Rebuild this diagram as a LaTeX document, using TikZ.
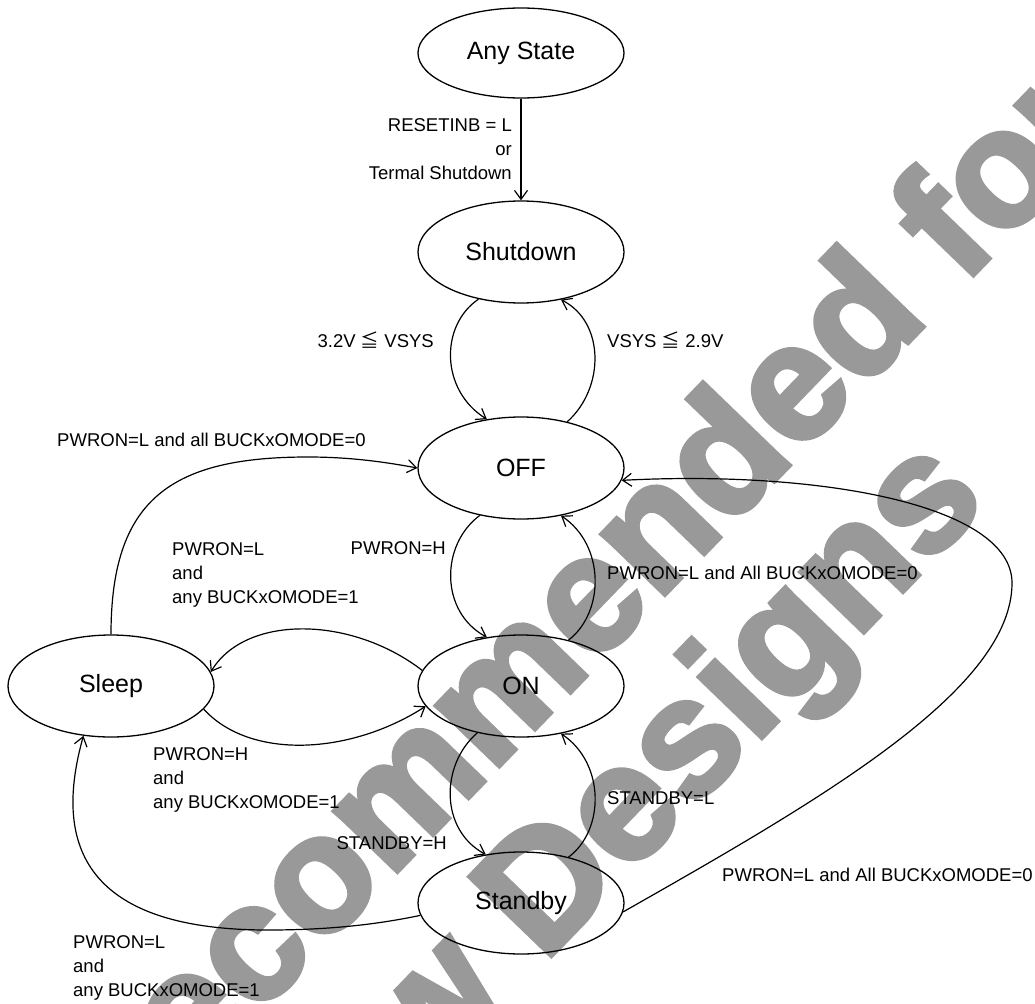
\documentclass[tikz,border=0pt]{standalone}
\usepackage{fontspec}
\setmainfont{Liberation Sans}
\newfontfamily\jpfont{Noto Sans CJK JP}
\newfontfamily\wmfont{Liberation Sans Bold}[FakeBold=3]
\usetikzlibrary{arrows.meta,shapes.geometric}
\definecolor{wmgray}{RGB}{153,153,153}
\tikzset{
  state/.style={ellipse, draw, line width=1.3pt, minimum width=206pt, minimum height=102pt, inner sep=0pt, font=\fontsize{25}{30}\selectfont},
  lbl/.style={inner sep=0pt, font=\fontsize{18.5}{24}\selectfont},
  conn/.style={line width=1.2pt, -{Straight Barb[length=9pt,width=13pt]}},
  wm/.style={inner sep=0pt, anchor=base, rotate=46, text=wmgray, font=\wmfont\fontsize{165}{180}\selectfont},
}
\begin{document}
\begin{tikzpicture}[x=1pt,y=-1pt]
\useasboundingbox (0,0) rectangle (1035,1003);
\begin{scope}
\clip (0,0) rectangle (1035,1003);
\node[wm] (wm1) at (501,764) {Not Recommended for};
\node[wm] (wm2) at (633,871) {New Designs};
\end{scope}

\node[state, minimum height=90pt] (as) at (521,53) {Any State};
\node[state] (sd) at (521,252) {Shutdown};
\node[state] (of) at (521,468) {OFF};
\node[state] (on) at (521,686) {ON};
\node[state] (sl) at (111,686) {Sleep};
\node[state] (sb) at (521,903) {Standby};

\draw[conn] (as.south) -- (sd.north);
\draw[conn] (sd.228) .. controls (440,325) and (440,390) .. (of.125);
\draw[conn] (of.45) .. controls (605,388) and (605,322) .. (sd.310);
\draw[conn] (sl.north) .. controls (111,500) and (170,457) .. (308,457) .. controls (350,457) and (385,462) .. (of.west);
\draw[conn] (of.229) .. controls (440,545) and (440,612) .. (on.125);
\draw[conn] (on.44) .. controls (605,612) and (605,545) .. (of.310);
\draw[conn] (sb.-5) .. controls (820,800) and (1012,690) .. (1012,583) .. controls (1012,505) and (820,470) .. (of.-7);
\draw[conn] (on.171) .. controls (350,615) and (245,615) .. (sl.8);
\draw[conn] (sl.346) .. controls (250,760) and (350,755) .. (on.192);
\draw[conn] (on.227) .. controls (440,765) and (440,830) .. (sb.126);
\draw[conn] (sb.44) .. controls (605,830) and (605,763) .. (on.310);
\draw[conn] (sb.187) .. controls (370,926) and (320,930) .. (268,930) .. controls (60,930) and (60,820) .. (sl.241);

\node[lbl, anchor=east, align=right] (l1) at (512,149) {RESETINB = L\\or\\Termal Shutdown};
\node[lbl, anchor=east] (l2) at (434,340) {3.2V {\jpfont ≦} VSYS};
\node[lbl, anchor=west] (l3) at (607,340) {VSYS {\jpfont ≦} 2.9V};
\node[lbl, anchor=west] (l4) at (57,440) {PWRON=L and all BUCKxOMODE=0};
\node[lbl, anchor=west, align=left] (l5) at (172,575) {PWRON=L\\and\\any BUCKxOMODE=1};
\node[lbl, anchor=east] (l6) at (446,548) {PWRON=H};
\node[lbl, anchor=west] (l7) at (607,573) {PWRON=L and All BUCKxOMODE=0};
\node[lbl, anchor=west, align=left] (l8) at (153,780) {PWRON=H\\and\\any BUCKxOMODE=1};
\node[lbl, anchor=east] (l9) at (447,843) {STANDBY=H};
\node[lbl, anchor=west] (l10) at (607,798) {STANDBY=L};
\node[lbl, anchor=west] (l11) at (722,875) {PWRON=L and All BUCKxOMODE=0};
\node[lbl, anchor=west, align=left] (l12) at (73,968) {PWRON=L\\and\\any BUCKxOMODE=1};
\end{tikzpicture}
\end{document}
